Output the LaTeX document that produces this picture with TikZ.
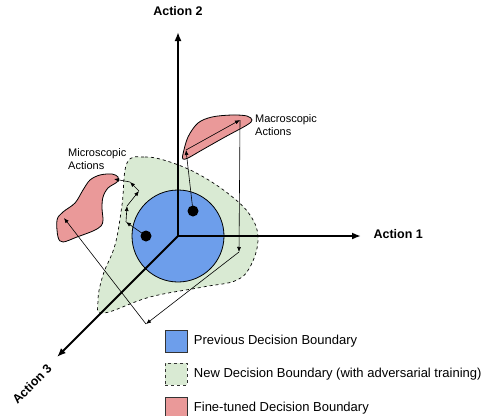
\documentclass[tikz,border=0pt]{standalone}
\usepackage{fontspec}
\setmainfont{Liberation Sans}
\usepackage{xcolor}
\usetikzlibrary{arrows.meta,positioning}

\definecolor{prevblue}{HTML}{6D9EEB}
\definecolor{newgreen}{HTML}{D9EAD3}
\definecolor{tunedred}{HTML}{EA9999}

\tikzset{
  axis/.style={line width=1.8pt, -{Latex[length=9pt,width=7pt]}},
  move/.style={line width=0.6pt, -{Latex[length=5pt,width=4pt]}},
  axlab/.style={font=\bfseries\fontsize{12.5}{14}\selectfont},
  smalllab/.style={font=\fontsize{11}{13}\selectfont, align=left},
  leglab/.style={font=\fontsize{13}{15}\selectfont},
  legbox/.style={draw=black!80, line width=0.8pt, minimum size=22pt, inner sep=0pt},
}

\begin{document}
\begin{tikzpicture}[x=1pt,y=-1pt]
  \useasboundingbox (0,0) rectangle (489,415);

  % new boundary (adversarial training)
  \draw[dashed, fill=newgreen, line width=0.7pt] plot[smooth cycle, tension=0.65] coordinates
    {(127,163) (145,157) (170,162) (200,175) (230,195) (250,215) (258,237) (252,263)
     (237,280) (203,287) (150,297) (104,313) (98,301) (103,275) (115,245) (122,205)};

  % fine-tuned boundaries
  \draw[fill=tunedred, line width=0.8pt] plot[smooth cycle, tension=0.55] coordinates
    {(112,174) (118,177) (117,182) (108,188) (103,197) (102,208) (103,220) (101,226)
     (93,231) (77,237) (63,242) (58,237) (57,220) (63,212) (75,203) (83,190) (90,180) (100,175)};
  \draw[fill=tunedred, line width=0.8pt] plot[smooth cycle, tension=0.55] coordinates
    {(183,154) (188,137) (198,123) (212,117) (232,115) (247,116) (252,120) (247,125)
     (225,137) (202,150) (188,158) (183,159)};

  % previous boundary
  \draw[fill=prevblue, line width=0.8pt] (178,236) circle[radius=46];

  % axes
  \coordinate (O) at (178,236);
  \coordinate (ax1) at (361,236);
  \coordinate (ax2) at (178,32);
  \coordinate (ax3) at (57,357);
  \draw[axis] (O) -- (ax1);
  \draw[axis] (O) -- (ax2);
  \draw[axis] (O) -- (ax3);
  \node[axlab, anchor=base west] (a1) at (370,238) {Action 1};
  \node[axlab, anchor=base] (a2) at (178,16) {Action 2};
  \node[axlab, rotate=45] (a3) at (32,384) {Action 3};

  % macroscopic actions
  \coordinate (m0) at (193,211);
  \coordinate (m1) at (186,150);
  \coordinate (m2) at (240,120);
  \coordinate (m3) at (239,252);
  \coordinate (m4) at (146,324);
  \coordinate (m5) at (64,218);
  \draw[move] (m0) -- (m1);
  \draw[move] (m1) -- (m2);
  \draw[move] (m2) -- (m3);
  \draw[move] (m3) -- (m4);
  \draw[move] (m4) -- (m5);

  % microscopic actions
  \coordinate (u0) at (146,236);
  \coordinate (u1) at (126,222);
  \coordinate (u2) at (127,206);
  \coordinate (u3) at (139,191);
  \coordinate (u4) at (130,182);
  \coordinate (u5) at (114,179);
  \draw[move] (u0) -- (u1);
  \draw[move] (u1) -- (u2);
  \draw[move] (u2) -- (u3);
  \draw[move] (u3) -- (u4);
  \draw[move] (u4) -- (u5);

  \fill (m0) circle[radius=5.5];
  \fill (u0) circle[radius=5.5];

  \node[smalllab, anchor=north west, inner sep=0pt] (micro) at (68,148) {Microscopic\\Actions};
  \node[smalllab, anchor=north west, inner sep=0pt] (macro) at (255,114) {Macroscopic\\Actions};

  % legend
  \node[legbox, fill=prevblue] (kprev) at (176,341) {};
  \node[legbox, fill=newgreen, dashed] (knew) at (176,374) {};
  \node[legbox, fill=tunedred] (ktuned) at (176,408) {};
  \node[leglab, right=3pt of kprev] {Previous Decision Boundary};
  \node[leglab, right=3pt of knew] {New Decision Boundary (with adversarial training)};
  \node[leglab, right=3pt of ktuned] {Fine-tuned Decision Boundary};

\end{tikzpicture}
\end{document}
